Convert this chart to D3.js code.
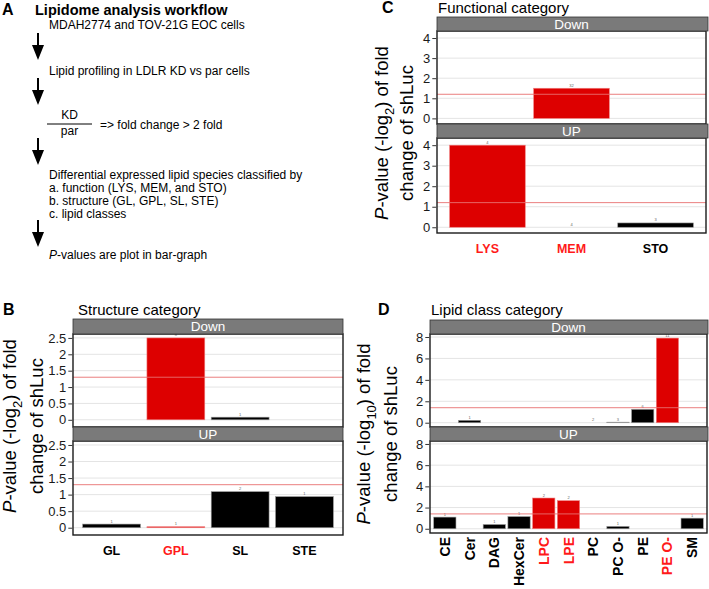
<!DOCTYPE html>
<html>
<head>
<meta charset="utf-8">
<script src="https://cdn.jsdelivr.net/npm/d3@7"></script>
<style>
  html, body { margin: 0; padding: 0; background: #fff; }
  svg { display: block; font-family: "Liberation Sans", Arial, Helvetica, sans-serif; }
</style>
</head>
<body>
<svg id="chart" width="709" height="589"></svg>
<script>
// ---------------- DATA ----------------
// Panel A workflow text
const workflowTitle = "Lipidome analysis workflow";
const workflowSteps = [
  "MDAH2774 and TOV-21G EOC cells",
  "Lipid profiling in LDLR KD vs par cells"
];
const workflowFold = "=> fold change > 2 fold";
const workflowClassify = [
  "Differential expressed lipid species classified by",
  "a. function (LYS, MEM, and STO)",
  "b. structure (GL, GPL, SL, STE)",
  "c. lipid classes"
];
const workflowLast = "-values are plot in bar-graph";

// Panel B: structure category
const structCats = ["GL", "GPL", "SL", "STE"];
const structDown = [0, 2.5, 0.08, 0];
const structUp = [0.11, 0.03, 1.09, 0.94];
const structDownN = ["", "8", "1", ""];
const structUpN = ["1", "1", "2", "1"];
const structRed = ["GPL"];
const structThreshold = 1.3;
const structTicks = [0, 0.5, 1, 1.5, 2, 2.5];
const structTickLabels = ["0", "0.5", "1", "1.5", "2", "2.5"];

// Panel C: functional category
const funcCats = ["LYS", "MEM", "STO"];
const funcDown = [0, 1.5, 0];
const funcUp = [4.0, 0, 0.21];
const funcDownN = ["", "32", ""];
const funcUpN = ["4", "4", "3"];
const funcRed = ["LYS", "MEM"];
const funcThreshold = 1.2;
const funcTicks = [0, 1, 2, 3, 4];

// Panel D: lipid class category
const classCats = ["CE", "Cer", "DAG", "HexCer", "LPC", "LPE", "PC", "PC O-", "PE", "PE O-", "SM"];
const classDown = [0, 0.22, 0, 0, 0, 0, 0, 0.05, 1.25, 7.9, 0];
const classUp = [1.1, 0, 0.4, 1.15, 2.9, 2.65, 0, 0.22, 0, 0, 1.0];
const classDownN = ["", "1", "", "", "", "", "2", "3", "6", "11", ""];
const classUpN = ["1", "", "1", "1", "2", "2", "", "1", "", "", "1"];
const classRed = ["LPC", "LPE", "PE O-"];
const classThreshold = 1.4;
const classTicks = [0, 2, 4, 6, 8];

const facetNames = ["Down", "UP"];

// ---------------- DRAW ----------------
const svg = d3.select("#chart");
const RED = "#dd0000";
const FONT = '"Liberation Sans", Arial, Helvetica, sans-serif';

// ---- Panel A ----
const A = svg.append("g");
A.append("text").attr("x", 2).attr("y", 15).attr("font-size", 16).attr("font-weight", "bold").text("A");
A.append("text").attr("x", 35).attr("y", 15).attr("font-size", 14.5).attr("font-weight", "bold").text(workflowTitle);

function arrow(g, x, y1, y2) {
  g.append("line").attr("x1", x).attr("x2", x).attr("y1", y1).attr("y2", y2 - 13)
    .attr("stroke", "#000").attr("stroke-width", 2);
  g.append("path").attr("d", `M${x - 6},${y2 - 15} L${x + 6},${y2 - 15} L${x},${y2} Z`).attr("fill", "#000");
}
const tx = 49;
A.append("text").attr("x", tx).attr("y", 29).attr("font-size", 12).text(workflowSteps[0]);
arrow(A, 38, 33, 60);
A.append("text").attr("x", tx).attr("y", 75).attr("font-size", 12).text(workflowSteps[1]);
arrow(A, 38, 78, 105);
A.append("text").attr("x", 69.5).attr("y", 119).attr("font-size", 12).attr("text-anchor", "middle").text("KD");
A.append("line").attr("x1", 47).attr("x2", 92).attr("y1", 124).attr("y2", 124).attr("stroke", "#000").attr("stroke-width", 1);
A.append("text").attr("x", 69.5).attr("y", 135).attr("font-size", 12).attr("text-anchor", "middle").text("par");
A.append("text").attr("x", 100).attr("y", 128.5).attr("font-size", 12).text(workflowFold);
arrow(A, 38, 138, 165);
workflowClassify.forEach((t, i) => {
  A.append("text").attr("x", tx).attr("y", 178.5 + i * 13.3).attr("font-size", 12).text(t);
});
arrow(A, 38, 220, 247);
const lastT = A.append("text").attr("x", tx).attr("y", 259).attr("font-size", 12);
lastT.append("tspan").attr("font-style", "italic").text("P");
lastT.append("tspan").text(workflowLast);

// ---- faceted bar panel ----
function drawPanel(cfg) {
  const g = svg.append("g");
  const x = d3.scaleBand().domain(cfg.cats).range([cfg.xL, cfg.xR])
    .paddingInner(0.1).paddingOuter(0.15);
  const series = [cfg.down, cfg.up];
  const counts = [cfg.downN, cfg.upN];

  // letter and title
  g.append("text").attr("x", cfg.letterX).attr("y", cfg.titleY).attr("font-size", 16)
    .attr("font-weight", "bold").text(cfg.letter);
  g.append("text").attr("x", cfg.titleX).attr("y", cfg.titleY).attr("font-size", 15).text(cfg.title);

  facetNames.forEach((fname, fi) => {
    const sTop = cfg.facets[fi].stripTop;
    const pTop = cfg.facets[fi].panelTop;
    const pBot = cfg.facets[fi].panelBot;
    const y = d3.scaleLinear().domain(cfg.yDomain).range([pBot, pTop]);

    // panel background
    g.append("rect").attr("x", cfg.xL).attr("y", pTop).attr("width", cfg.xR - cfg.xL)
      .attr("height", pBot - pTop).attr("fill", "#fff");
    // gridlines
    g.append("g").selectAll("line").data(cfg.ticks).join("line")
      .attr("x1", cfg.xL).attr("x2", cfg.xR)
      .attr("y1", d => y(d)).attr("y2", d => y(d))
      .attr("stroke", "#e4e4e4").attr("stroke-width", 1);
    // bars
    const data = cfg.cats.map((c, i) => ({ c, v: series[fi][i], n: counts[fi][i] }));
    g.append("g").selectAll("rect").data(data.filter(d => d.v > 0)).join("rect")
      .attr("x", d => x(d.c)).attr("width", x.bandwidth())
      .attr("y", d => y(d.v)).attr("height", d => y(0) - y(d.v))
      .attr("fill", d => cfg.red.includes(d.c) ? RED : "#000")
      .attr("stroke", d => cfg.red.includes(d.c) ? "#f08080" : "#999")
      .attr("stroke-width", 0.6);
    // count labels
    g.append("g").selectAll("text").data(data.filter(d => d.n !== "")).join("text")
      .attr("x", d => x(d.c) + x.bandwidth() / 2).attr("y", d => y(d.v) - 1.5)
      .attr("text-anchor", "middle").attr("font-size", 4).attr("fill", "#666").text(d => d.n);
    // threshold line
    g.append("line").attr("x1", cfg.xL).attr("x2", cfg.xR)
      .attr("y1", y(cfg.threshold)).attr("y2", y(cfg.threshold))
      .attr("stroke", "#e87070").attr("stroke-width", 0.9);
    // panel border
    g.append("rect").attr("x", cfg.xL).attr("y", pTop).attr("width", cfg.xR - cfg.xL)
      .attr("height", pBot - pTop).attr("fill", "none").attr("stroke", "#1a1a1a").attr("stroke-width", 1.4);
    // strip
    g.append("rect").attr("x", cfg.xL).attr("y", sTop).attr("width", cfg.stripR - cfg.xL)
      .attr("height", pTop - sTop).attr("fill", "#7a7a7a").attr("stroke", "#333").attr("stroke-width", 0.8);
    g.append("text").attr("x", (cfg.xL + cfg.xR) / 2).attr("y", (sTop + pTop) / 2)
      .attr("dy", "0.36em").attr("text-anchor", "middle").attr("font-size", 13.5)
      .attr("fill", "#fff").text(fname);
    // y axis
    const ax = d3.axisLeft(y).tickValues(cfg.ticks).tickSize(4).tickPadding(2)
      .tickFormat((d, i) => cfg.tickLabels ? cfg.tickLabels[i] : d3.format("d")(d));
    const axg = g.append("g").attr("transform", `translate(${cfg.xL - 0.7},0)`).call(ax);
    axg.select(".domain").remove();
    axg.selectAll(".tick line").attr("stroke", "#333");
    axg.selectAll(".tick text").attr("font-size", 13).attr("font-family", FONT).attr("fill", "#1a1a1a");
  });

  // y-axis title (two lines)
  const t1 = g.append("text").attr("transform", `translate(${cfg.ytX1},${cfg.ytY}) rotate(-90)`)
    .attr("text-anchor", "middle").attr("font-size", cfg.ytSize);
  t1.append("tspan").attr("font-style", "italic").text("P");
  t1.append("tspan").text("-value (-log");
  t1.append("tspan").attr("font-size", cfg.ytSize * 0.7).attr("dy", cfg.ytSize * 0.3).text(cfg.logBase);
  t1.append("tspan").attr("dy", -cfg.ytSize * 0.3).text(") of fold");
  g.append("text").attr("transform", `translate(${cfg.ytX2},${cfg.ytY}) rotate(-90)`)
    .attr("text-anchor", "middle").attr("font-size", cfg.ytSize).text("change of shLuc");

  // x labels
  if (cfg.rotateX) {
    g.append("g").selectAll("text").data(cfg.cats).join("text")
      .attr("transform", d => `translate(${x(d) + x.bandwidth() / 2},${cfg.xLabY}) rotate(-90)`)
      .attr("dy", "0.36em").attr("text-anchor", "end")
      .attr("font-size", cfg.xLabSize).attr("font-weight", "bold")
      .attr("fill", d => cfg.red.includes(d) ? "#ff1a1a" : "#000").text(d => d);
  } else {
    g.append("g").selectAll("text").data(cfg.cats).join("text")
      .attr("x", d => x(d) + x.bandwidth() / 2).attr("y", cfg.xLabY)
      .attr("text-anchor", "middle").attr("font-size", cfg.xLabSize).attr("font-weight", "bold")
      .attr("fill", d => cfg.red.includes(d) ? "#ff1a1a" : "#000").text(d => d);
  }
}

drawPanel({
  letter: "B", letterX: 3, title: "Structure category", titleX: 78, titleY: 315,
  cats: structCats, down: structDown, up: structUp, downN: structDownN, upN: structUpN,
  red: structRed, threshold: structThreshold, ticks: structTicks, tickLabels: structTickLabels,
  yDomain: [-0.22, 2.62], xL: 73, xR: 343, stripR: 343,
  facets: [{ stripTop: 319, panelTop: 334, panelBot: 427 }, { stripTop: 427, panelTop: 441, panelBot: 535 }],
  ytX1: 16, ytX2: 42.5, ytY: 426, ytSize: 18.5, logBase: "2",
  xLabY: 555, xLabSize: 12.5, rotateX: false
});

drawPanel({
  letter: "C", letterX: 382, title: "Functional category", titleX: 438, titleY: 13,
  cats: funcCats, down: funcDown, up: funcUp, downN: funcDownN, upN: funcUpN,
  red: funcRed, threshold: funcThreshold, ticks: funcTicks,
  yDomain: [-0.28, 4.35], xL: 437, xR: 706, stripR: 708,
  facets: [{ stripTop: 17, panelTop: 31, panelBot: 124 }, { stripTop: 124, panelTop: 138, panelBot: 233 }],
  ytX1: 388, ytX2: 413, ytY: 133, ytSize: 18.5, logBase: "2",
  xLabY: 253, xLabSize: 12.5, rotateX: false
});

drawPanel({
  letter: "D", letterX: 378, title: "Lipid class category", titleX: 431, titleY: 315,
  cats: classCats, down: classDown, up: classUp, downN: classDownN, upN: classUpN,
  red: classRed, threshold: classThreshold, ticks: classTicks,
  yDomain: [-0.4, 8.28], xL: 430, xR: 707, stripR: 708,
  facets: [{ stripTop: 320, panelTop: 334, panelBot: 427 }, { stripTop: 427, panelTop: 441, panelBot: 533 }],
  ytX1: 370, ytX2: 396.5, ytY: 434, ytSize: 18.5, logBase: "10",
  xLabY: 537, xLabSize: 14, rotateX: true
});
</script>
</body>
</html>
